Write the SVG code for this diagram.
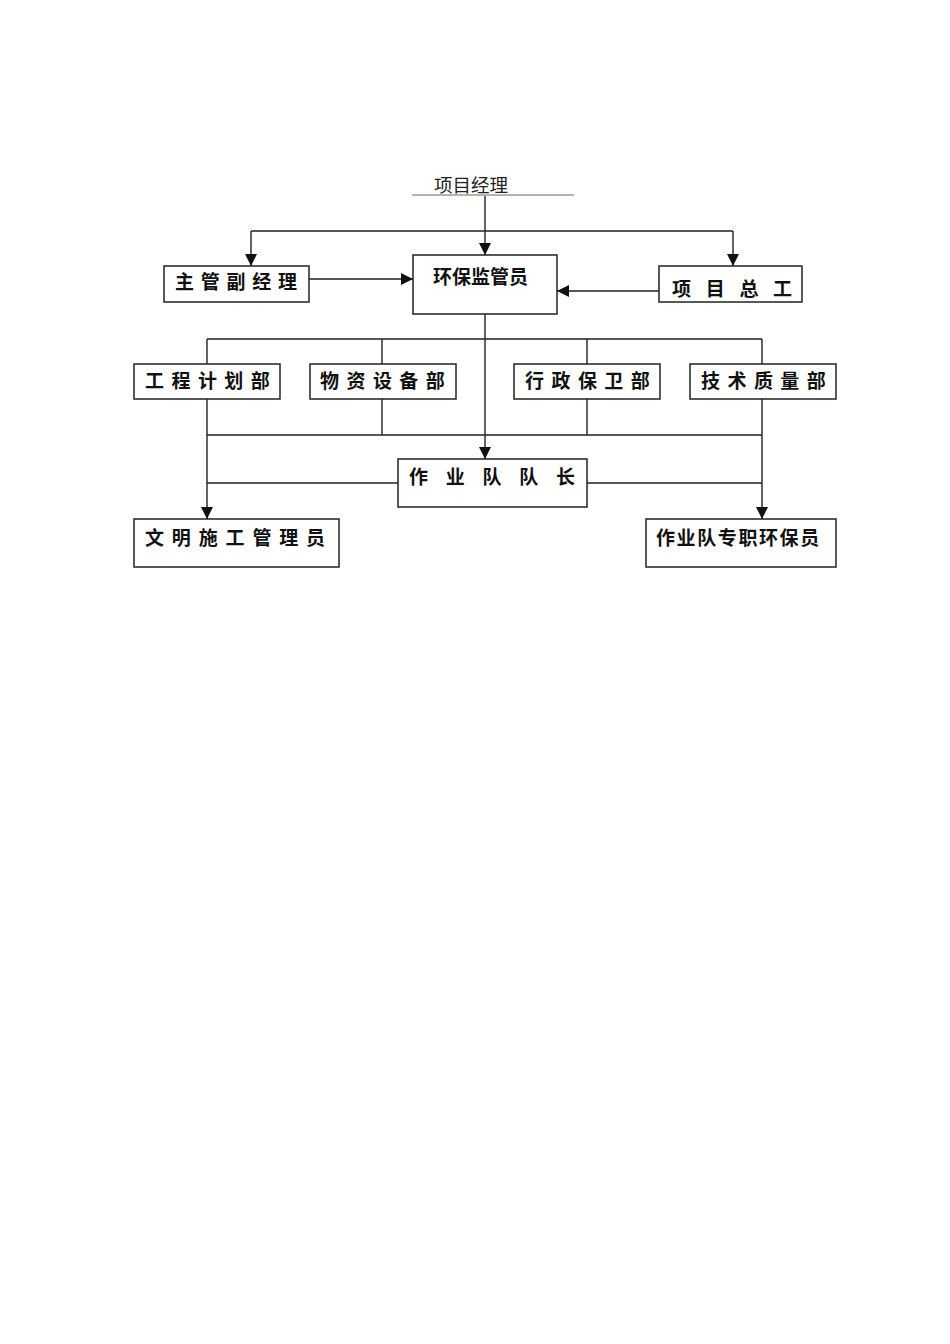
<svg xmlns="http://www.w3.org/2000/svg" width="950" height="1344" viewBox="0 0 950 1344">
<style>
.box{fill:#fff;stroke:#222;stroke-width:1.5}
.lbl{font-family:"Noto Sans CJK SC","Noto Sans",sans-serif;font-weight:bold;font-size:19px;fill:#111}
.ln{fill:none;stroke:#222;stroke-width:1.4}
.top{font-family:"Noto Sans CJK SC",serif;font-size:18.5px;fill:#222}
</style>
<defs>
<marker id="arr" markerUnits="userSpaceOnUse" markerWidth="12" markerHeight="12" refX="12" refY="6" orient="auto">
<path d="M0,0 L12,6 L0,12 z" fill="#111"/>
</marker>
</defs>
<rect width="950" height="1344" fill="#fff"/>
<g id="connectors">
<path class="ln" d="M485,196 V255" marker-end="url(#arr)"/>
<path class="ln" d="M251,231 H733"/>
<path class="ln" d="M251,231 V266" marker-end="url(#arr)"/>
<path class="ln" d="M733,231 V266" marker-end="url(#arr)"/>
<path class="ln" d="M309,279 H413" marker-end="url(#arr)"/>
<path class="ln" d="M659,291 H557" marker-end="url(#arr)"/>
<path class="ln" d="M485,314 V459" marker-end="url(#arr)"/>
<path class="ln" d="M207,339 H762 M207,339 V364 M382,339 V364 M587,339 V364 M762,339 V364"/>
<path class="ln" d="M382,399 V435 M587,399 V435 M207,435 H762"/>
<path class="ln" d="M207,399 V519" marker-end="url(#arr)"/>
<path class="ln" d="M762,399 V519" marker-end="url(#arr)"/>
<path class="ln" d="M207,483 H398 M587,483 H762"/>
</g>
<g id="n-xmjl">
<line x1="412" y1="195" x2="574" y2="195" stroke="#666" stroke-width="1"/>
<text class="top" x="434" y="192">项目经理</text>
</g>
<g id="n-zgfjl">
<rect class="box" x="164" y="266" width="145" height="36"/>
<text class="lbl" x="175" y="289" letter-spacing="6.75">主管副经理</text>
</g>
<g id="n-hbjgy">
<rect class="box" x="413" y="255" width="144" height="59"/>
<text class="lbl" x="433" y="284" font-size="21">环保监管员</text>
</g>
<g id="n-xmzg">
<rect class="box" x="659" y="266" width="143" height="36"/>
<text class="lbl" x="672" y="296" letter-spacing="14.7">项目总工</text>
</g>
<g id="n-gcjhb">
<rect class="box" x="134" y="364" width="146" height="35"/>
<text class="lbl" x="145" y="388" letter-spacing="7.45">工程计划部</text>
</g>
<g id="n-wzsbb">
<rect class="box" x="310" y="364" width="146" height="35"/>
<text class="lbl" x="320" y="388" letter-spacing="7.45">物资设备部</text>
</g>
<g id="n-xzbwb">
<rect class="box" x="514" y="364" width="146" height="35"/>
<text class="lbl" x="525" y="388" letter-spacing="7.45">行政保卫部</text>
</g>
<g id="n-jszlb">
<rect class="box" x="690" y="364" width="146" height="35"/>
<text class="lbl" x="701" y="388" letter-spacing="7.45">技术质量部</text>
</g>
<g id="n-zydz">
<rect class="box" x="398" y="459" width="189" height="48"/>
<text class="lbl" x="409" y="484" letter-spacing="17.75">作业队队长</text>
</g>
<g id="n-wmsg">
<rect class="box" x="134" y="519" width="205" height="48"/>
<text class="lbl" x="145" y="545" letter-spacing="7.85">文明施工管理员</text>
</g>
<g id="n-zyzz">
<rect class="box" x="646" y="519" width="190" height="48"/>
<text class="lbl" x="656" y="545" font-size="20" letter-spacing="1.6">作业队专职环保员</text>
</g>
</svg>
